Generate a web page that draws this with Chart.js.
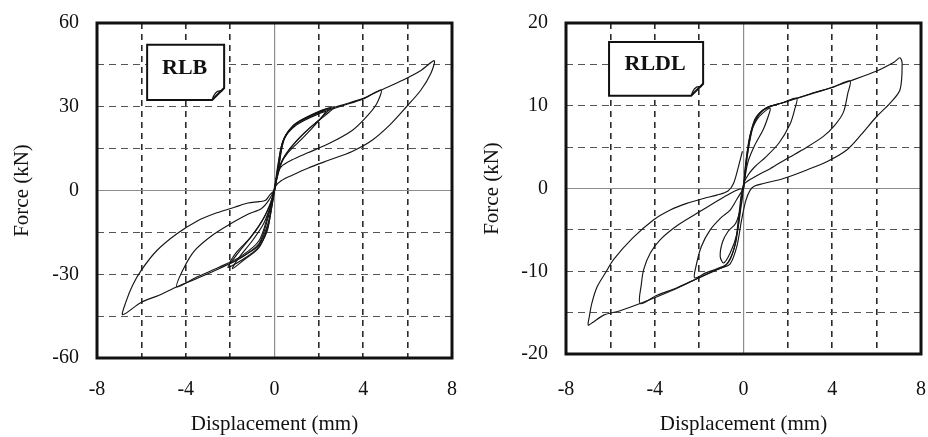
<!DOCTYPE html>
<html>
<head>
<meta charset="utf-8">
<script src="https://cdn.jsdelivr.net/npm/chart.js@4"></script>
<style>
  html, body { margin: 0; padding: 0; background: #fff; }
  #wrap { position: relative; width: 928px; height: 437px; }
  canvas { position: absolute; top: 0; }
</style>
</head>
<body>
<div id="wrap">
  <canvas id="rlb-chart" width="464" height="437" style="left:0"></canvas>
  <canvas id="rldl-chart" width="464" height="437" style="left:464px"></canvas>
</div>
<script>
// axis ticks
const dispTicks = [-8, -4, 0, 4, 8];
const rlbForceTicks = [-60, -30, 0, 30, 60];
const rldlForceTicks = [-20, -10, 0, 10, 20];

// RLB specimen - hysteresis loops (displacement mm, force kN)
const rlbSmallAX = [0, 0.15, 0.35, 0.8, 1.5, 2.5, 2.1, 1.4, 0.7, 0.3, 0.1, 0, -0.15, -0.35, -0.8, -1.6, -2.1, -1.7, -1.0, -0.5, -0.2, 0];
const rlbSmallAY = [0, 8, 17, 23, 26.5, 29.5, 26, 21, 15, 10, 4, 0, -7, -15, -21, -25.5, -27.5, -23, -16, -10, -5, 0];
const rlbSmallBX = [0, 0.15, 0.4, 0.9, 1.6, 2.3, 2.0, 1.3, 0.6, 0.25, 0.05, -0.1, -0.3, -0.7, -1.3, -2.0, -1.7, -1.1, -0.6, -0.25, 0];
const rlbSmallBY = [0, 9, 18, 23.5, 26.5, 28.5, 25, 19, 13.5, 9, 3, -4, -12, -19.5, -23, -26, -22, -17, -11.5, -6, 0];
const rlbSmallCX = [0, 0.2, 0.45, 1.0, 1.8, 2.7, 2.3, 1.6, 0.9, 0.4, 0.1, -0.1, -0.3, -0.7, -1.4, -1.9, -1.6, -1.0, -0.5, -0.2, 0];
const rlbSmallCY = [0, 9.5, 19, 24, 27.5, 30, 27, 22.5, 17, 11.5, 4, -5, -13, -20.5, -25, -28, -24, -18, -12, -6, 0];
const rlbMidX = [0, 0.2, 0.4, 1.0, 2.0, 3.0, 4.0, 4.8, 4.6, 4.1, 3.5, 2.5, 1.5, 0.8, 0.3, 0.1, -0.1, -0.3, -0.7, -1.5, -2.5, -3.5, -4.4, -4.1, -3.6, -2.8, -2.0, -1.2, -0.6, -0.3, 0];
const rlbMidY = [0, 9, 18, 23.5, 27.5, 30.2, 32.8, 36, 31, 26, 21.5, 17, 13.5, 11, 8.5, 5, -3, -9, -18, -23.5, -27.5, -31, -34.5, -28, -21.5, -16, -12, -8.5, -6.5, -4, 0];
const rlbBigX = [0, 0.2, 0.45, 1.0, 2.0, 3.0, 4.0, 4.8, 5.8, 6.6, 7.2, 7.05, 6.6, 5.95, 5.2, 4.4, 3.5, 2.5, 1.5, 0.8, 0.3, 0.05, -0.1, -0.3, -0.7, -1.5, -2.5, -3.5, -4.4, -5.2, -6.0, -6.84, -6.7, -6.4, -6.0, -5.3, -4.4, -3.5, -2.6, -1.8, -1.2, -0.7, -0.4, -0.2, 0];
const rlbBigY = [0, 9, 18.5, 24, 28, 30.5, 33, 36, 39.6, 43, 46.5, 42, 36, 30, 23.5, 18, 14, 11, 8, 5.5, 3.5, 1.5, -3, -10, -19, -24, -28, -31.5, -34.5, -37.5, -40, -44.5, -40, -34, -28.5, -21.5, -15.5, -11, -8, -6, -4.5, -4, -3.5, -1.5, 0];

// RLDL specimen - hysteresis loops (displacement mm, force kN)
const rldlLoop1X = [0, 0.1, 0.3, 0.6, 0.9, 1.2, 1.15, 0.9, 0.5, 0.2, 0.05, -0.1, -0.3, -0.6, -0.9, -1.05, -0.95, -0.7, -0.35, -0.1, 0];
const rldlLoop1Y = [0, 3, 6.5, 8.3, 9.2, 9.7, 9.0, 7.2, 5.2, 3.2, 1.0, -2, -5.5, -7.8, -9.0, -8.2, -6.5, -5.2, -4.2, -2, 0];
const rldlLoop2X = [0, 0.15, 0.4, 0.8, 1.3, 1.8, 2.4, 2.3, 2.1, 1.6, 1.0, 0.5, 0.2, 0, -0.15, -0.35, -0.7, -1.2, -1.7, -2.2, -2.15, -1.9, -1.5, -1.0, -0.6, -0.3, 0];
const rldlLoop2Y = [0, 4, 7.5, 9.3, 10.0, 10.4, 10.9, 9.5, 7.8, 5.5, 3.8, 2.6, 1.6, 0.5, -2.5, -6.5, -9, -9.7, -10.2, -10.8, -9.5, -7, -5, -3.5, -2.6, -1.3, 0];
const rldlLoop3X = [0, 0.2, 0.5, 1.0, 1.7, 2.4, 3.2, 4.0, 4.8, 4.7, 4.5, 4.1, 3.6, 2.8, 1.95, 1.2, 0.44, 0, -0.2, -0.4, -0.8, -1.3, -2.1, -3.0, -3.9, -4.66, -4.6, -4.5, -4.2, -3.76, -3.0, -2.1, -1.3, -0.6, -0.2, 0];
const rldlLoop3Y = [0, 4.5, 8, 9.7, 10.3, 10.9, 11.6, 12.2, 13.0, 11.5, 9.2, 7.6, 6.3, 4.9, 3.6, 2.4, 1.3, 0.4, -3, -7, -9.3, -9.9, -10.9, -12.0, -12.9, -13.9, -11.5, -9.8, -7.8, -6.2, -4.5, -3.0, -1.7, -0.6, -0.1, 0];
const rldlLoop4X = [0, 0.2, 0.5, 1.0, 1.7, 2.4, 3.5, 4.8, 6.0, 6.8, 7.05, 7.15, 7.05, 6.6, 6.0, 5.3, 4.65, 3.8, 2.85, 1.8, 0.9, 0.5, 0.3, 0.1, -0.1, -0.3, -0.6, -1.0, -2.1, -3.2, -4.66, -5.6, -6.3, -6.8, -7.0, -6.95, -6.84, -6.6, -6.2, -5.86, -5.0, -4.06, -3.3, -2.56, -1.8, -1.2, -0.7, -0.45, -0.25, -0.05];
const rldlLoop4Y = [0, 4.5, 8.3, 9.7, 10.3, 10.9, 11.8, 13.0, 14.2, 15.3, 15.8, 15.1, 11.9, 10.3, 8.7, 6.5, 4.65, 3.3, 2.24, 1.2, 0.6, 0.3, -0.2, -1.5, -4, -7, -9.1, -9.6, -10.9, -12.3, -13.9, -14.8, -15.3, -16.2, -16.5, -15.5, -13.9, -11.9, -10.1, -8.6, -6.0, -3.8, -2.6, -1.8, -1.2, -0.8, -0.3, 0.6, 2.4, 4.5];

const serif = "'Liberation Serif', 'Times New Roman', serif";

// frame around the plot area + the specimen label tag
const framePlugin = {
    id: 'frame',
    beforeDatasetsDraw(chart, args, opts) {
        const { ctx, scales } = chart;
        const b = opts.box;
        const x1 = scales.x.getPixelForValue(b.x0);
        const x2 = scales.x.getPixelForValue(b.x1);
        const y1 = scales.y.getPixelForValue(b.y0);
        const y2 = scales.y.getPixelForValue(b.y1);
        const c = 12;
        ctx.save();
        ctx.beginPath();
        ctx.moveTo(x1, y1);
        ctx.lineTo(x2, y1);
        ctx.lineTo(x2, y2 - c);
        ctx.lineTo(x2 - c, y2);
        ctx.lineTo(x1, y2);
        ctx.closePath();
        ctx.fillStyle = '#fff';
        ctx.fill();
        ctx.lineWidth = 2;
        ctx.strokeStyle = '#111';
        ctx.stroke();
        // curled corner
        ctx.beginPath();
        ctx.moveTo(x2 - c, y2);
        ctx.quadraticCurveTo(x2 - c * 0.75, y2 - c * 0.9, x2 - c * 0.2, y2 - c * 0.75);
        ctx.lineTo(x2, y2 - c);
        ctx.lineWidth = 1.3;
        ctx.stroke();
        ctx.fillStyle = '#111';
        ctx.font = 'bold 22px ' + serif;
        ctx.textAlign = 'center';
        ctx.textBaseline = 'middle';
        ctx.fillText(opts.label, (x1 + x2) / 2 - 1, y1 + (y2 - y1) * 0.42);
        ctx.restore();
    },
    afterDatasetsDraw(chart) {
        const { ctx, chartArea: a } = chart;
        ctx.save();
        ctx.lineWidth = 3;
        ctx.strokeStyle = '#111';
        ctx.strokeRect(a.left, a.top, a.right - a.left, a.bottom - a.top);
        ctx.restore();
    }
};

function toPoints(xs, ys) {
    return xs.map((v, i) => ({ x: v, y: ys[i] }));
}

function makeChart(id, loops, cfg) {
    const datasets = loops.map(l => ({
        data: toPoints(l[0], l[1]),
        showLine: true,
        borderColor: '#151515',
        borderWidth: 1.15,
        pointRadius: 0,
        tension: 0.3,
        fill: false
    }));
    const gridColor = (ctx, edge, dash) => {
        const v = ctx.tick ? ctx.tick.value : 0;
        if (v === 0) return '#8c8c8c';
        if (Math.abs(v) === edge) return 'rgba(0,0,0,0)';
        return dash;
    };
    return new Chart(document.getElementById(id), {
        type: 'scatter',
        data: { datasets },
        options: {
            responsive: false,
            animation: false,
            devicePixelRatio: 1,
            layout: { padding: cfg.padding },
            plugins: {
                legend: { display: false },
                tooltip: { enabled: false },
                frame: { box: cfg.box, label: cfg.label }
            },
            scales: {
                x: {
                    type: 'linear',
                    min: dispTicks[0],
                    max: dispTicks[dispTicks.length - 1],
                    afterFit: s => {
                        s.height = cfg.xHeight;
                        s.paddingLeft = 0;
                        s.paddingRight = 0;
                    },
                    ticks: {
                        stepSize: 2,
                        autoSkip: false,
                        maxRotation: 0,
                        padding: cfg.xTickPad,
                        color: '#111',
                        font: { family: serif, size: 20 },
                        callback: v => dispTicks.includes(v) ? String(v) : ''
                    },
                    grid: {
                        drawTicks: false,
                        color: ctx => gridColor(ctx, 8, '#2a2a2a'),
                        lineWidth: ctx => (ctx.tick && ctx.tick.value === 0) ? 1.2 : 1.6
                    },
                    border: { display: false, dash: ctx => (ctx.tick && ctx.tick.value === 0) ? [] : [6, 5] },
                    title: {
                        display: true,
                        text: 'Displacement (mm)',
                        color: '#111',
                        font: { family: serif, size: 21 },
                        padding: 0
                    }
                },
                y: {
                    type: 'linear',
                    min: cfg.yTicks[0],
                    max: cfg.yTicks[cfg.yTicks.length - 1],
                    afterFit: s => {
                        s.width = cfg.yWidth;
                        s.paddingTop = 0;
                        s.paddingBottom = 0;
                    },
                    ticks: {
                        stepSize: cfg.yStep,
                        autoSkip: false,
                        padding: 18,
                        color: '#111',
                        font: { family: serif, size: 20 },
                        callback: v => cfg.yTicks.includes(v) ? String(v) : ''
                    },
                    grid: {
                        drawTicks: false,
                        color: ctx => gridColor(ctx, cfg.yTicks[cfg.yTicks.length - 1], '#555'),
                        lineWidth: 1.1
                    },
                    border: { display: false, dash: ctx => (ctx.tick && ctx.tick.value === 0) ? [] : [7, 5] },
                    title: {
                        display: true,
                        text: 'Force (kN)',
                        color: '#111',
                        font: { family: serif, size: 21 },
                        padding: { top: cfg.yTitlePad, bottom: 0 }
                    }
                }
            }
        },
        plugins: [framePlugin]
    });
}

makeChart('rlb-chart', [
    [rlbSmallAX, rlbSmallAY],
    [rlbSmallBX, rlbSmallBY],
    [rlbSmallCX, rlbSmallCY],
    [rlbMidX, rlbMidY],
    [rlbBigX, rlbBigY]
], {
    label: 'RLB',
    box: { x0: -5.74, x1: -2.27, y0: 52.2, y1: 32.4 },
    yTicks: rlbForceTicks,
    yStep: 15,
    padding: { top: 23, right: 12, left: 0, bottom: 0 },
    yWidth: 97,
    xHeight: 79,
    xTickPad: 20,
    yTitlePad: 10,
});

makeChart('rldl-chart', [
    [rldlLoop1X, rldlLoop1Y],
    [rldlLoop2X, rldlLoop2Y],
    [rldlLoop3X, rldlLoop3Y],
    [rldlLoop4X, rldlLoop4Y]
], {
    label: 'RLDL',
    box: { x0: -6.06, x1: -1.82, y0: 17.7, y1: 11.2 },
    yTicks: rldlForceTicks,
    yStep: 5,
    padding: { top: 23, right: 7, left: 0, bottom: 0 },
    yWidth: 102,
    xHeight: 83,
    xTickPad: 24,
    yTitlePad: 16,
});
</script>
</body>
</html>
